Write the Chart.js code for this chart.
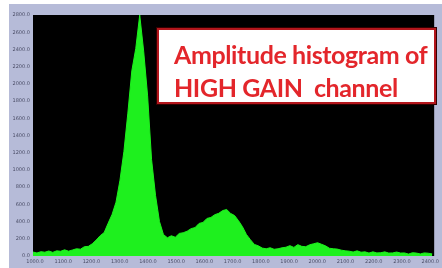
<!DOCTYPE html>
<html>
<head>
<meta charset="utf-8">
<script src="https://cdn.jsdelivr.net/npm/chart.js@4"></script>
<style>
  body { margin: 0; background: #fff; }
  #wrap { position: relative; width: 442px; height: 268px; }
  #note {
    position: absolute; left: 157px; top: 28px; width: 279px; height: 76px;
    background: #fff; border: 2px solid #b3161c; box-shadow: 0 0 0 1px #300;
    font-family: Lato, "Open Sans", sans-serif; font-weight: bold; font-size: 25px;
    color: #e3262b; line-height: 33px; padding: 8px 0 0 15px; box-sizing: border-box;
    letter-spacing: -0.4px; white-space: nowrap;
  }
</style>
</head>
<body>
<div id="wrap">
  <canvas id="histo" width="442" height="268"></canvas>
  <div id="note">Amplitude histogram of<br>HIGH GAIN&nbsp; channel</div>
</div>
<script>
// canales (centro de cada bin)
const channels = [993,1007,1021,1035,1049,1063,1077,1091,1105,1119,1133,1147,1161,1175,1189,1203,1217,1231,1245,1259,
  1273,1287,1301,1315,1329,1343,1357,1371,1385,1399,1413,1427,1441,1455,1469,1483,1497,1511,1525,1539,
  1553,1567,1581,1595,1609,1623,1637,1651,1665,1679,1693,1707,1721,1735,1749,1763,1777,1791,1805,1819,
  1833,1847,1861,1875,1889,1903,1917,1931,1945,1959,1973,1987,2001,2015,2029,2043,2057,2071,2085,2099,
  2113,2127,2141,2155,2169,2183,2197,2211,2225,2239,2253,2267,2281,2295,2309,2323,2337,2351,2365,2379,
  2393,2407];

// cuentas por bin
const counts = [46,35,50,44,58,42,60,55,72,56,70,84,79,108,112,142,186,236,272,380,
  482,625,880,1215,1660,2150,2410,2800,2380,1860,1120,705,400,250,212,235,218,262,270,288,
  318,330,378,390,436,448,480,496,528,540,495,470,410,340,250,190,135,118,92,84,
  96,78,84,95,102,120,100,132,112,108,130,142,154,136,118,90,84,80,68,60,
  56,46,60,44,48,34,48,36,38,48,34,36,46,34,36,22,38,34,24,36,
  32,24];

const xTicks = [1000,1100,1200,1300,1400,1500,1600,1700,1800,1900,2000,2100,2200,2300,2400];
const yTicks = [0,200,400,600,800,1000,1200,1400,1600,1800,2000,2200,2400,2600,2800];

// fondo del panel y area negra
const panelBg = {
  id: 'panelBg',
  beforeDraw(chart) {
    const { ctx, chartArea: a } = chart;
    ctx.save();
    ctx.fillStyle = '#ffffff';
    ctx.fillRect(0, 0, chart.width, chart.height);
    ctx.fillStyle = '#b6bbd8';
    ctx.fillRect(9, 4, chart.width - 9, chart.height - 4);
    ctx.fillStyle = '#000000';
    ctx.fillRect(a.left, a.top, a.right - a.left, a.bottom - a.top);
    ctx.restore();
  }
};

const tickFont = { family: 'DejaVu Sans', size: 5 };

new Chart(document.getElementById('histo'), {
  type: 'line',
  data: {
    datasets: [{
      data: channels.map((c, i) => ({ x: c, y: counts[i] })),
      borderColor: '#1ef01e',
      backgroundColor: '#1ef01e',
      borderWidth: 1,
      pointRadius: 0,
      fill: 'origin',
      tension: 0
    }]
  },
  options: {
    responsive: false,
    animation: false,
    devicePixelRatio: 1,
    layout: { padding: { left: 9, top: 15, right: 3, bottom: 0 } },
    plugins: { legend: { display: false }, tooltip: { enabled: false } },
    scales: {
      x: {
        type: 'linear', min: 993, max: 2414,
        afterFit: s => { s.height = 12; },
        afterBuildTicks: s => { s.ticks = xTicks.map(v => ({ value: v })); },
        grid: { display: false, drawTicks: false },
        border: { display: false },
        ticks: { font: tickFont, color: '#4a4d66', padding: 3, maxRotation: 0,
          callback: v => v.toFixed(1) }
      },
      y: {
        min: 0, max: 2800,
        afterFit: s => { s.width = 24; },
        afterBuildTicks: s => { s.ticks = yTicks.map(v => ({ value: v })); },
        grid: { display: false, drawTicks: false },
        border: { display: false },
        ticks: { font: tickFont, color: '#4a4d66', padding: 3,
          callback: v => v.toFixed(1) }
      }
    }
  },
  plugins: [panelBg]
});
</script>
</body>
</html>
